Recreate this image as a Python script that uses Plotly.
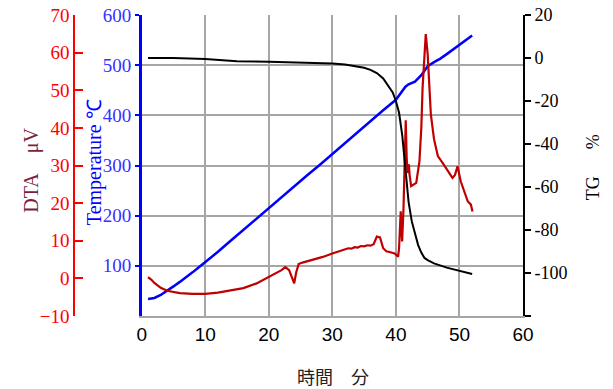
import plotly.graph_objects as go

# ---- data ----
temp_time = [1, 2, 3, 4, 5, 6, 7, 8, 9, 10, 12, 14, 16, 18, 20, 22, 24, 26, 28, 30,
             32, 34, 36, 38, 40, 41, 41.5, 42, 43, 44, 45, 46, 47, 48, 50, 52]
temp_vals = [34, 36, 42, 50, 59, 68, 77, 87, 97, 107, 128, 150, 172, 193, 215, 237, 258, 280, 301, 323,
             345, 366, 388, 410, 431, 447, 457, 462, 467, 480, 498, 506, 513, 522, 540, 559]

tg_time = [1, 5, 10, 15, 20, 25, 30, 32, 34, 35, 36, 37, 38, 39, 39.5, 40, 40.5, 41, 41.5, 42,
           42.5, 43, 43.5, 44, 44.5, 45, 46, 48, 50, 52]
tg_vals = [0, 0, -0.5, -1.5, -1.8, -2.0, -2.5, -3.0, -3.8, -4.5, -5.5, -7, -9.5, -13.5, -16, -20,
           -25.5, -36, -52, -67, -76, -82, -87, -90.5, -93, -94, -95.5, -97.5, -99, -100.5]

dta_time = [1, 1.5, 2, 3, 4, 5, 6, 8, 10, 12, 14, 16, 18, 20, 21, 22, 22.6, 23.2, 23.7, 24.0,
            24.3, 24.7, 25.3, 27, 28.5, 30, 31, 32, 32.5, 33, 33.5, 34, 34.5, 35, 35.5, 36,
            36.5, 37, 37.5, 38, 38.5, 39, 39.8, 40.35, 40.5, 40.76, 40.9, 40.98, 41.2, 41.4,
            41.55, 41.7, 41.85, 42.05, 42.15, 42.4, 42.8, 43.2, 43.7, 44.0, 44.2, 44.5, 44.7,
            45.0, 45.3, 45.5, 46.0, 46.6, 47.35, 48.2, 48.9, 49.3, 49.7, 50.2, 50.8, 51.3,
            51.8, 52.05]
dta_vals = [0.3, -0.3, -1.2, -2.5, -3.3, -3.7, -3.9, -4.1, -4.1, -3.8, -3.3, -2.6, -1.4, 0.3, 1.2,
            2.2, 3.0, 2.2, 0.0, -1.3, 1.5, 3.8, 4.2, 4.9, 5.7, 6.6, 7.1, 7.6, 8.0, 7.9, 8.3, 8.2,
            8.6, 8.5, 8.8, 8.7, 9.1, 11.1, 10.9, 8.0, 7.2, 7.0, 6.6, 5.8, 8, 17.8, 10, 9.8, 18.7,
            30, 42, 32, 28, 30.3, 27.6, 24.5, 25, 25.4, 31, 40, 50.7, 60, 64.9, 59.6, 50, 43.6,
            37, 32.5, 30.7, 28.5, 26.7, 27.5, 29.8, 25.8, 23, 20.5, 19.6, 17.8]

x_ticks = [0, 10, 20, 30, 40, 50, 60]
temp_ticks = [100, 200, 300, 400, 500, 600]
dta_ticks = [-10, 0, 10, 20, 30, 40, 50, 60, 70]
tg_ticks = [-120, -100, -80, -60, -40, -20, 0, 20]
tg_ticktext = ["", "-100", "-80", "-60", "-40", "-20", "0", "20"]

SERIF = "Liberation Serif, Times New Roman, serif"
SANS = "Liberation Sans, Arial, sans-serif"
GRID = "#a6a6a6"

W, H = 613, 389
ML, MR, MT, MB = 0, 90, 15, 73
pw = W - ML - MR
ph = H - MT - MB

def px_x(x):
    return (x - ML) / pw

def px_y(y):
    return 1 - (y - MT) / ph

fig = go.Figure()
fig.add_trace(go.Scatter(x=temp_time, y=temp_vals, mode="lines",
                         line=dict(color="#0000ff", width=2.5), yaxis="y", showlegend=False))
fig.add_trace(go.Scatter(x=dta_time, y=dta_vals, mode="lines",
                         line=dict(color="#c00000", width=2.2), yaxis="y2", showlegend=False))
fig.add_trace(go.Scatter(x=tg_time, y=tg_vals, mode="lines",
                         line=dict(color="#000000", width=2), yaxis="y3", showlegend=False))

fig.update_layout(
    width=W, height=H,
    margin=dict(l=ML, r=MR, t=MT, b=MB),
    paper_bgcolor="white", plot_bgcolor="white",
    xaxis=dict(domain=[px_x(138), 1], range=[0, 60], tickvals=x_ticks,
               showgrid=True, gridcolor=GRID, gridwidth=1.5, zeroline=False,
               showline=True, linecolor=GRID, linewidth=1.5, ticks="",
               tickfont=dict(family=SANS, size=19, color="#000")),
    yaxis=dict(range=[0, 600], tickvals=temp_ticks, anchor="x", side="left",
               showgrid=True, gridcolor=GRID, gridwidth=1.5, zeroline=False,
               showline=True, linecolor="#0000ff", linewidth=2.5,
               ticks="outside", ticklen=4, tickcolor="#0000ff", tickwidth=1.5,
               tickfont=dict(family=SERIF, size=19, color="#3333ff")),
    yaxis2=dict(range=[-10, 70], tickvals=dta_ticks, overlaying="y", anchor="free",
                position=px_x(70), side="left", showgrid=False, zeroline=False,
                showline=True, linecolor="#ff0000", linewidth=2,
                ticks="inside", ticklen=8, tickcolor="#ff0000", tickwidth=2,
                tickfont=dict(family=SERIF, size=19, color="#ff0000")),
    yaxis3=dict(range=[-120, 20], tickvals=tg_ticks, ticktext=tg_ticktext,
                overlaying="y", anchor="x", side="right", showgrid=False, zeroline=False,
                showline=True, linecolor="#000000", linewidth=2,
                ticks="outside", ticklen=6, tickcolor="#000000", tickwidth=1.5,
                tickfont=dict(family=SERIF, size=18, color="#000")),
    annotations=[
        dict(text="DTA\u00a0\u00a0\u00a0\u00a0μV", x=px_x(26), y=px_y(170), xref="paper", yref="paper",
             textangle=-90, showarrow=False, xanchor="center", yanchor="middle",
             font=dict(family=SERIF, size=20, color="#7a1f3d")),
        dict(text="Temperature ℃", x=px_x(90), y=px_y(162), xref="paper", yref="paper",
             textangle=-90, showarrow=False, xanchor="center", yanchor="middle",
             font=dict(family=SERIF, size=20, color="#0000ff")),
        dict(text="TG\u00a0\u00a0\u00a0\u00a0\u00a0\u00a0%", x=px_x(594), y=px_y(167), xref="paper", yref="paper",
             textangle=-90, showarrow=False, xanchor="center", yanchor="middle",
             font=dict(family=SERIF, size=18, color="#000")),
        dict(text="時間\u3000分", x=px_x(331), y=px_y(376), xref="paper", yref="paper",
             showarrow=False, xanchor="center", yanchor="middle",
             font=dict(family="Noto Sans CJK JP", size=18, color="#222")),
    ],
)

fig.write_html("out.html")
